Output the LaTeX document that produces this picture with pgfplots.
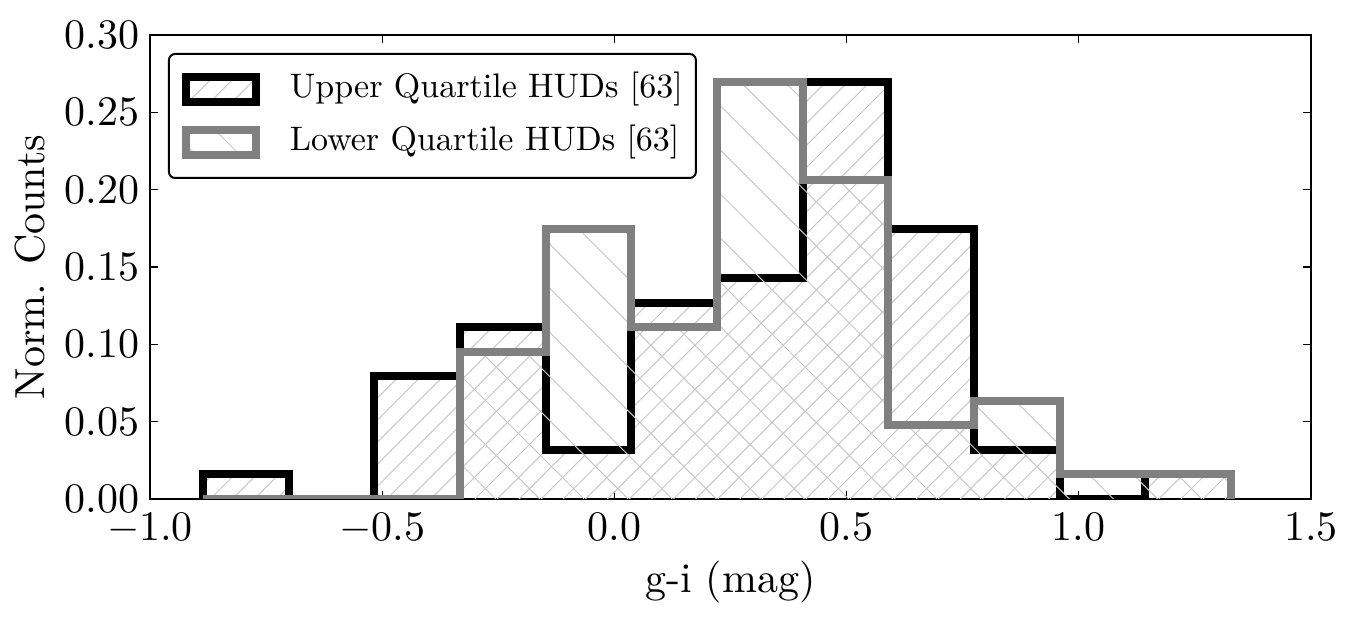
\documentclass[border=0pt]{standalone}
\usepackage{pgfplots}
\pgfplotsset{compat=1.18}
\usetikzlibrary{patterns.meta}
\definecolor{hatchc}{RGB}{200,200,200}
\definecolor{histgray}{RGB}{128,128,128}
\font\tickfont="[lmroman10-regular]:+tlig;" at 21pt
\font\labfont="[lmroman10-regular]:+tlig;" at 21pt
\font\legfont="[lmroman10-regular]:+tlig;" at 17pt
\begin{document}
\begin{tikzpicture}
\begin{axis}[
  scale only axis,
  width=580.5pt, height=232pt,
  xmin=-1, xmax=1.5, ymin=0, ymax=0.3,
  xtick={-1,-0.5,0,0.5,1,1.5},
  xticklabels={$-$1.0,$-$0.5,0.0,0.5,1.0,1.5},
  ytick={0,0.05,0.1,0.15,0.2,0.25,0.3},
  yticklabels={0.00,0.05,0.10,0.15,0.20,0.25,0.30},
  xtick pos=both, ytick pos=both,
  xticklabel pos=lower, yticklabel pos=left,
  tick align=inside,
  major tick length=4pt,
  every tick/.style={black, line width=0.6pt},
  axis line style={line width=1pt},
  xticklabel style={font=\fontsize{21}{25}\selectfont\tickfont, anchor=base, inner sep=0pt, yshift=-20.5pt},
  yticklabel style={font=\fontsize{21}{25}\selectfont\tickfont, anchor=east, inner sep=0pt, xshift=-5pt},
  xlabel={g-i (mag)},
  ylabel={Norm. Counts},
  every axis x label/.style={at={(axis description cs:0.5,0)}, anchor=base, inner sep=0pt, yshift=-46.5pt, font=\fontsize{21}{25}\selectfont\labfont},
  every axis y label/.style={at={(axis description cs:0,0.5)}, rotate=90, anchor=south, inner sep=0pt, yshift=52pt, font=\fontsize{21}{25}\selectfont\labfont},
  legend style={
    at={(axis description cs:0,1)}, anchor=north west,
    xshift=9pt, yshift=-9pt,
    draw=black, line width=1pt, rounded corners=3pt,
    font=\fontsize{17}{20}\selectfont\legfont,
    inner xsep=6.5pt, inner ysep=9.5pt,
    row sep=10pt, column sep=15pt,
    nodes={inner sep=0pt, text height=12pt, text depth=3.5pt},
  },
  legend cell align=left,
  clip=true,
]
\addplot[const plot, draw=black, line width=4pt, line join=miter,
  pattern={Lines[angle=45,distance=7.8pt,line width=0.5pt]}, pattern color=hatchc,
  legend image code/.code={\draw[sharp corners, line width=4pt, draw=black,
     pattern={Lines[angle=45,distance=7.8pt,line width=0.5pt]}, pattern color=hatchc]
     (0pt,-6.25pt) rectangle (35pt,6.25pt);}]
coordinates {
(-0.886,0) (-0.886,0.015873) (-0.7015,0) (-0.517,0.079365) (-0.3325,0.111111)
(-0.148,0.031746) (0.0365,0.126984) (0.221,0.142857) (0.4055,0.269841)
(0.590,0.174603) (0.7745,0.031746) (0.959,0) (1.1435,0.015873) (1.328,0)
};
\addlegendentry{Upper Quartile HUDs [63]}
\addplot[const plot, draw=histgray, line width=4pt, line join=miter,
  pattern={Lines[angle=-45,distance=15.6pt,line width=0.5pt]}, pattern color=hatchc,
  legend image code/.code={\draw[sharp corners, line width=4pt, draw=histgray,
     pattern={Lines[angle=-45,distance=15.6pt,line width=0.5pt]}, pattern color=hatchc]
     (0pt,-6.25pt) rectangle (35pt,6.25pt);}]
coordinates {
(-0.886,0) (-0.886,0) (-0.7015,0) (-0.517,0) (-0.3325,0.095238)
(-0.148,0.174603) (0.0365,0.111111) (0.221,0.269841) (0.4055,0.206349)
(0.590,0.047619) (0.7745,0.063492) (0.959,0.015873) (1.1435,0.015873) (1.328,0)
};
\addlegendentry{Lower Quartile HUDs [63]}
\end{axis}
\pgfresetboundingbox
\path ([xshift=-75pt,yshift=-61pt]current axis.south west) rectangle ([xshift=22pt,yshift=17.5pt]current axis.north east);
\end{tikzpicture}
\end{document}
